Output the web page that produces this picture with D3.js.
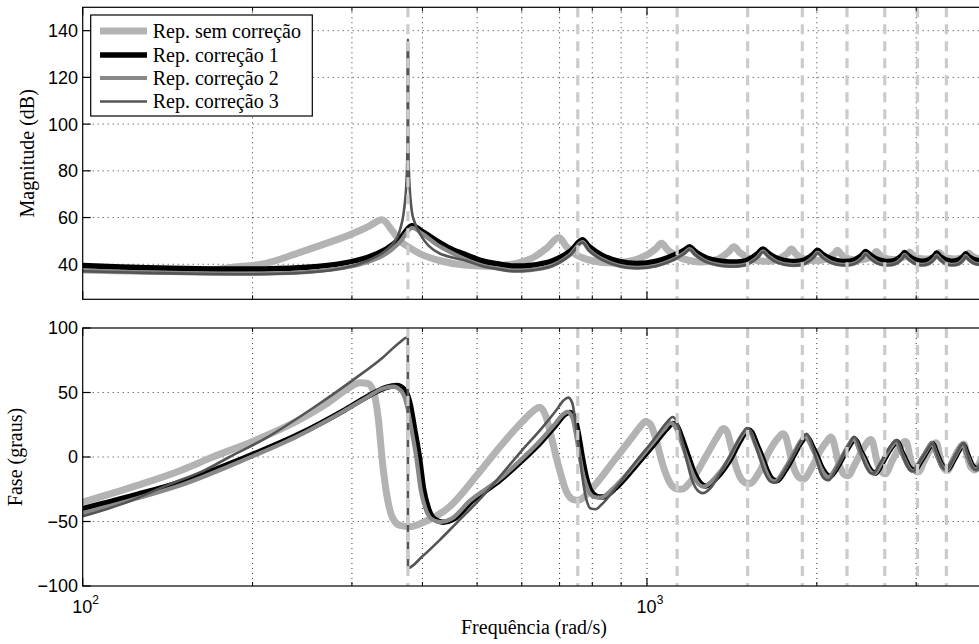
<!DOCTYPE html>
<html><head><meta charset="utf-8">
<script src="https://cdn.jsdelivr.net/npm/d3@7"></script>
<style>body{margin:0;background:#fff}
.tick{font-family:"Liberation Sans","Arimo",Arial,Helvetica,sans-serif;}
.serif{font-family:"Liberation Serif","Tinos","Times New Roman",Times,"DejaVu Serif",serif;}
</style>
</head><body>
<svg id="chart" width="979" height="644"></svg>
<script>
// ---------------- DATA ----------------
const seriesNames = ["Rep. sem correção","Rep. correção 1","Rep. correção 2","Rep. correção 3"];
const harmonicFreqs = [377,754,1131,1508,1885,2262,2639,3016,3393];
const magTicks = [40,60,80,100,120,140];
const phaseTicks = [-100,-50,0,50,100];
const xMajorTicks = [100,1000];
const xMinorTicks = [200,300,400,500,600,700,800,900,2000,3000];

// Magnitude (dB)
const magFreq0 = [100,130,160,185,212,242,278,300,320,340,352,365,380,400,430,470,527,590,630,665,698,720,750,800,867,940,1000,1035,1061,1090,1140,1241,1330,1390,1427,1460,1520,1612,1700,1770,1803,1840,1900,1985,2080,2150,2176,2215,2280,2366,2460,2525,2550,2590,2650,2729,2820,2895,2920,2960,3030,3109,3200,3270,3293,3340,3420,3501,3610,3690,3717,3770,3850,4000];
const mag0 = [37.5,37,37.2,38.7,40.5,45,50,53,56,59,55,50,47,44,41.5,39.8,39.2,40.5,43,47,51.5,47.5,44,41.5,40.5,41.5,44,46.5,49,46,43,41,42,45,47.5,45,42.5,41.3,42,44.5,46.5,44.2,42.3,41.5,42.3,44.5,46,44,42.3,41.8,42.5,44.3,45.5,43.8,42.5,42,42.6,44.2,45.2,43.8,42.6,42.2,42.7,44.2,45,43.6,42.6,42.2,42.8,44.2,44.8,43.5,42.5,42];

const magFreq1 = [100,130,170,210,250,290,320,345,365,383,400,424,450,478,510,549,575,620,680,730,768,790,830,890,960,1040,1120,1165,1190,1220,1280,1400,1500,1570,1605,1640,1700,1800,1900,1975,2005,2050,2120,2220,2330,2410,2440,2490,2560,2650,2760,2835,2860,2910,2980,3060,3160,3235,3260,3310,3380,3460,3570,3645,3670,3720,3800,3900,4000];
const mag1 = [39.5,38.5,38,38,38.7,40.5,43,46.5,51,56.5,54,50,46.5,44,41.5,40,39.3,39.5,41.5,45.5,50.5,47.5,44,41.3,40.3,41.3,44,46,47.5,45.3,42.5,41,41.6,44.5,46.5,44.8,42.5,41.2,41.8,44.5,46,44.2,42.3,41.2,41.8,44.2,45.5,43.8,42.1,41.2,41.8,44,45,43.5,42,41.3,41.9,43.8,44.8,43.2,41.9,41.3,41.9,43.6,44.5,43.2,42,41.5,41.8];

const magFreq2 = magFreq1;
const mag2 = [37.3,36.5,36,36,36.7,38.5,41,44.5,49.5,55.5,53,48.5,45,42,39.5,38,37.3,37.5,39.5,44,49.5,46,42.3,39.5,38.5,39.5,42.3,44.8,46.5,44,41,39.3,40,43,45.5,43.5,41,39.7,40.3,43.2,45,43,40.8,39.8,40.3,42.8,44.5,42.6,40.6,39.8,40.4,42.6,44,42.2,40.5,39.8,40.4,42.5,43.7,42,40.4,39.8,40.3,42.3,43.5,42,40.5,40,40.3];

const magFreq3 = [100,130,170,210,250,290,320,345,360,368,373,375.5,376.6,376.95,377.05,377.4,378.5,381,385,396,410,430,478,510,549,575,620,680,730,768,790,830,890,960,1040,1120,1165,1190,1220,1280,1400,1500,1570,1605,1640,1700,1800,1900,1975,2005,2050,2120,2220,2330,2410,2440,2490,2560,2650,2760,2835,2860,2910,2980,3060,3160,3235,3260,3310,3380,3460,3570,3645,3670,3720,3800,3900,4000];
const mag3 = [37,36.3,35.8,35.8,36.5,38.3,41.5,46,51,58,68,80,100,136,136,100,80,68,60,53,48,44.5,41.5,39.3,37.8,37.1,37.3,39.3,43.8,49.3,45.8,42.1,39.3,38.3,39.3,42.1,44.6,46.3,43.8,40.8,39.1,39.8,42.8,45.3,43.3,40.8,39.5,40.1,43,44.8,42.8,40.6,39.6,40.1,42.6,44.3,42.4,40.4,39.6,40.2,42.4,43.8,42,40.3,39.6,40.2,42.3,43.5,41.8,40.2,39.6,40.1,42.1,43.3,41.8,40.3,39.8,40.1];

// Phase (degrees)
const phaseFreq0 = [100,125,150,170,200,240,270,295,310,320,328,334,340,346,354,365,380,400,448,500,549,600,630,645,660,680,700,720,740,755,800,870,940,975,994,1015,1040,1065,1095,1125,1150,1200,1270,1330,1365,1385,1410,1430,1460,1495,1520,1580,1650,1710,1740,1760,1785,1805,1835,1870,1895,1960,2030,2090,2115,2135,2160,2180,2210,2245,2270,2340,2420,2470,2490,2510,2535,2555,2585,2620,2645,2720,2800,2850,2870,2890,2915,2935,2965,3000,3025,3100,3180,3230,3250,3270,3295,3315,3345,3380,3405,3490,3570,3620,3640,3660,3690,3715,3745,3785,3810,3900,4000];
const phase0 = [-35,-22,-10,0,12,28,41,53,57.5,57,50,30,-5,-30,-47,-53,-54,-51,-38,-14,8,27,36,38.5,33,12,-10,-27,-33,-33.5,-24,-4,15,24,27.5,25,12,-5,-19,-24.5,-25,-18,0,15,22,20,8,-4,-15,-20,-20.5,-12,5,15,18,16,6,-3,-12,-16.5,-17,-8,5,13,15.5,13.5,5,-3,-10,-14,-14.5,-5,7,12.5,13.5,12,4,-3,-9,-12.5,-13,-3,7,11.5,12,10.5,3,-3,-8,-11,-11.5,-3,6,10,11,9.5,3,-3,-7.5,-10,-10.5,-2,6,9.5,10,8.5,2,-3,-7.5,-9.5,-10,-3,4];

const phaseFreq1 = [100,125,150,195,240,290,320,345,360,372,380,388,395,402,410,420,435,455,490,549,600,650,690,715,730,745,758,768,780,795,815,835,880,950,1030,1085,1110,1130,1155,1185,1215,1245,1270,1330,1400,1460,1495,1515,1535,1565,1600,1635,1665,1695,1760,1830,1880,1915,1935,1970,2005,2040,2075,2110,2180,2250,2300,2330,2355,2390,2430,2465,2500,2540,2610,2680,2740,2770,2795,2830,2865,2900,2940,2980,3050,3120,3175,3200,3225,3255,3290,3325,3370,3410,3480,3550,3605,3630,3655,3690,3725,3760,3810,3850,3930,4000];
const phase1 = [-40,-29,-19,0,17,36,47,54,55.5,52,42,20,0,-25,-40,-48,-50.5,-48,-34,-18,-3,12,25,33,34.5,30,15,0,-15,-26,-30.5,-31,-24,-8,10,22,26,24,14,0,-13,-20.5,-22.5,-16,-3,12,19,21,19,10,0,-11,-17,-18.5,-10,3,12,16,14,7,0,-8,-13,-15,-7,4,11,14,12,5,-1,-7,-11,-12.5,-5,4,10,12,10,4,-1,-6,-9.5,-10.5,-4,3,8.5,10.5,9,4,-1,-5.5,-8.5,-9.5,-4,3,8,9.5,8,3,-1,-5.5,-8.5,-9,-4,0];

const phaseFreq2 = [100,125,150,195,240,290,320,340,355,367,375,383,390,397,405,415,430,450,485,545,595,645,685,710,723,738,750,760,772,787,807,827,872,942,1020,1075,1100,1120,1145,1175,1205,1235,1260,1320,1390,1450,1485,1505,1525,1555,1590,1625,1655,1685,1750,1820,1870,1905,1925,1960,1995,2030,2065,2100,2170,2240,2290,2320,2345,2380,2420,2455,2490,2530,2600,2670,2730,2760,2785,2820,2855,2890,2930,2970,3040,3110,3165,3190,3215,3245,3280,3315,3360,3400,3470,3540,3595,3620,3645,3680,3715,3750,3800,3840,3920,4000];
const phase2 = [-43.5,-32,-21.5,-1.5,16,35.5,46.5,53,54.5,51,41,20,0,-25,-40,-48,-50.5,-48,-34,-18,-3,12,25,33,35,30,15,0,-15,-26,-31,-31.5,-24,-8,10,22,26.5,24,14,0,-13,-21,-23,-16,-3,12,19,21.5,19,10,0,-11,-17.5,-19,-10,3,12,16.5,14,7,0,-8,-13.5,-15.5,-7,4,11,14.5,12,5,-1,-7,-11.5,-13,-5,4,10,12.5,10,4,-1,-6,-10,-11,-4,3,8.5,11,9,4,-1,-5.5,-9,-10,-4,3,8,10,8,3,-1,-5.5,-9,-9.5,-4,0];

const phaseFreq3 = [100,120,141,165,182,210,256,302,340,365,376.9,377.1,400,430,460,500,549,600,650,690,712,725,737,748,758,768,780,795,810,830,880,950,1030,1085,1110,1128,1150,1175,1200,1230,1256,1290,1350,1420,1475,1505,1525,1555,1590,1620,1655,1685,1740,1800,1860,1900,1918,1935,1965,2000,2030,2065,2097,2160,2230,2290,2329,2350,2385,2420,2455,2490,2515,2580,2660,2730,2770,2790,2825,2860,2895,2935,2965,3040,3120,3175,3198,3220,3255,3290,3325,3365,3395,3470,3550,3610,3633,3655,3690,3725,3760,3800,3830,3920,4000];
const phase3 = [-46,-35,-22,-10,0,14,38,60,77,89,93,-86,-77,-64,-51,-35,-15,5,22,36,44,46,42,25,5,-15,-32,-40,-40.5,-37,-24,-5,14,27,31,28,15,-2,-17,-26,-28,-25,-12,5,18,22.5,20,10,-3,-13,-19,-20,-13,-2,10,16.5,18,16,8,-3,-12,-17,-18,-10,2,11,15.7,14,6,-3,-9,-12.5,-13,-6,4,11,13,11.5,5,-2,-7,-10.5,-11,-4,4,9,10.6,9.5,4,-2,-6.5,-9.5,-10,-4,4,9.5,10.6,9.5,4,-2,-6.5,-9.5,-10,-4,2];

// ---------------- STYLE ----------------
const seriesColors = ["#b3b3b3","#000000","#898989","#555555"];
const seriesWidths = [7,5.5,4.2,2.6];
const dashColor = "#cbcbcb";

const svg = d3.select("#chart");
svg.append("rect").attr("width",979).attr("height",644).attr("fill","#fff");

const xLeft = 82.7, xRight = 986.7;
const x = d3.scaleLog().domain([100,4000]).range([xLeft,xRight]);

const panels = [
  {id:"mag", top:7.3, bottom:299.3, domain:[25,150], ticks:magTicks, grid:[40,60,80,100,120,140], label:"Magnitude (dB)", labelX:34,
   curve:d3.curveCatmullRom.alpha(0.5),
   series:[[magFreq0,mag0],[magFreq1,mag1],[magFreq2,mag2],[magFreq3,mag3]]},
  {id:"phase", top:328, bottom:586, domain:[-100,100], ticks:phaseTicks, grid:[-50,0,50], label:"Fase (graus)", labelX:22,
   curve:d3.curveMonotoneX,
   series:[[phaseFreq0,phase0],[phaseFreq1,phase1],[phaseFreq2,phase2],[phaseFreq3,phase3]]}
];

panels.forEach(p => {
  const y = d3.scaleLinear().domain(p.domain).range([p.bottom,p.top]);
  const g = svg.append("g");
  const clipId = "clip-"+p.id;
  svg.append("clipPath").attr("id",clipId).append("rect")
    .attr("x",xLeft).attr("y",p.top).attr("width",xRight-xLeft).attr("height",p.bottom-p.top);

  // grid
  const grid = g.append("g").attr("stroke","#000").attr("stroke-width",0.8).attr("stroke-dasharray","1,4");
  xMinorTicks.concat([1000]).forEach(v => {
    grid.append("line").attr("x1",x(v)).attr("x2",x(v)).attr("y1",p.top).attr("y2",p.bottom);
  });
  p.grid.forEach(v => {
    grid.append("line").attr("x1",xLeft).attr("x2",xRight).attr("y1",y(v)).attr("y2",y(v));
  });

  // curves
  const cg = g.append("g").attr("clip-path","url(#"+clipId+")");
  const line = d3.line().x(d=>x(d[0])).y(d=>y(d[1])).curve(p.curve);
  p.series.forEach((s,i) => {
    const pts = s[0].map((f,k)=>[f,s[1][k]]);
    cg.append("path").datum(pts).attr("d",line)
      .attr("fill","none").attr("stroke",seriesColors[i]).attr("stroke-width",seriesWidths[i])
      .attr("stroke-linejoin","round").attr("stroke-linecap","butt");
  });

  // harmonic dashed lines
  harmonicFreqs.forEach(h => {
    cg.append("line").attr("x1",x(h)).attr("x2",x(h)).attr("y1",p.top).attr("y2",p.bottom)
      .attr("stroke",dashColor).attr("stroke-width",3.2).attr("stroke-dasharray","10,7");
  });

  // frame
  const fr = g.append("g").attr("stroke","#000").attr("stroke-width",1.2).attr("fill","none");
  fr.append("rect").attr("x",xLeft).attr("y",p.top).attr("width",xRight-xLeft).attr("height",p.bottom-p.top);
  xMajorTicks.forEach(v => {
    fr.append("line").attr("x1",x(v)).attr("x2",x(v)).attr("y1",p.bottom).attr("y2",p.bottom-8);
    fr.append("line").attr("x1",x(v)).attr("x2",x(v)).attr("y1",p.top).attr("y2",p.top+8);
  });
  xMinorTicks.forEach(v => {
    fr.append("line").attr("x1",x(v)).attr("x2",x(v)).attr("y1",p.bottom).attr("y2",p.bottom-4).attr("stroke-width",1);
    fr.append("line").attr("x1",x(v)).attr("x2",x(v)).attr("y1",p.top).attr("y2",p.top+4).attr("stroke-width",1);
  });
  p.ticks.forEach(v => {
    fr.append("line").attr("x1",xLeft).attr("x2",xLeft+8).attr("y1",y(v)).attr("y2",y(v));
  });
  p.ticks.forEach(v => {
    g.append("text").attr("class","tick").attr("x",78).attr("y",y(v)).attr("dy","0.36em")
      .attr("text-anchor","end").attr("font-size",18)
      .text(v<0 ? "\u2212"+Math.abs(v) : String(v));
  });
  g.append("text").attr("class","serif")
    .attr("transform","translate("+p.labelX+","+((p.top+p.bottom)/2)+") rotate(-90)")
    .attr("text-anchor","middle").attr("font-size",20).text(p.label);
});

// x tick labels (bottom panel)
xMajorTicks.forEach(v => {
  const t = svg.append("text").attr("class","tick").attr("x",x(v)+3).attr("y",613).attr("text-anchor","middle")
    .attr("font-size",18);
  t.append("tspan").text("10");
  t.append("tspan").attr("dy",-9).attr("font-size",12).text(String(Math.round(Math.log10(v))));
});
svg.append("text").attr("class","serif").attr("x",534).attr("y",634).attr("text-anchor","middle")
  .attr("font-size",20).text("Frequência (rad/s)");

// legend
const lg = svg.append("g");
lg.append("rect").attr("x",90.7).attr("y",15).attr("width",221.6).attr("height",101)
  .attr("fill","#fff").attr("stroke","#000").attr("stroke-width",1.2);
const legendRows = [31,55,78,101.5];
seriesNames.forEach((n,i) => {
  lg.append("line").attr("x1",100).attr("x2",147).attr("y1",legendRows[i]).attr("y2",legendRows[i])
    .attr("stroke",seriesColors[i]).attr("stroke-width",seriesWidths[i]);
  lg.append("text").attr("class","serif").attr("x",152.7).attr("y",legendRows[i]+6.5)
    .attr("font-size",20).text(n);
});
</script></body></html>
